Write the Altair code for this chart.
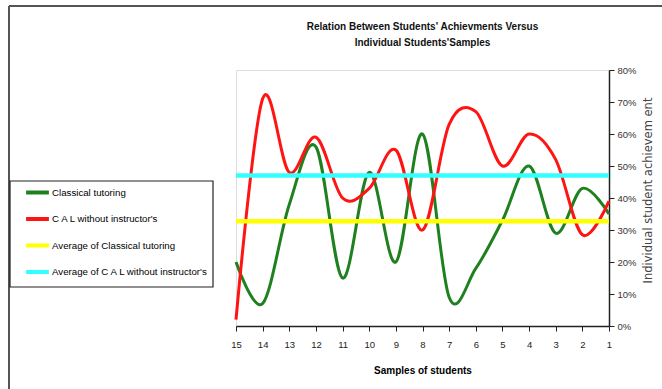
import altair as alt
import pandas as pd

categories = ["15", "14", "13", "12", "11", "10", "9", "8", "7", "6", "5", "4", "3", "2", "1"]
classical = [0.20, 0.07, 0.38, 0.56, 0.15, 0.48, 0.20, 0.60, 0.09, 0.18, 0.33, 0.50, 0.29, 0.43, 0.35]
cal = [0.02, 0.71, 0.48, 0.59, 0.40, 0.43, 0.55, 0.30, 0.63, 0.67, 0.50, 0.60, 0.52, 0.285, 0.39]
avg_classical = 0.327
avg_cal = 0.47

series_names = [
    "Classical tutoring",
    "C A L without instructor's voice",
    "Average of Classical tutoring",
    "Average of C A L without instructor's voice",
]
series_colors = ["#1f801f", "#ff1414", "#ffff00", "#33ffff"]

rows = []
for i, c in enumerate(categories):
    rows.append({"cat": c, "value": classical[i], "series": series_names[0], "order": i})
    rows.append({"cat": c, "value": cal[i], "series": series_names[1], "order": i})
    rows.append({"cat": c, "value": avg_classical, "series": series_names[2], "order": i})
    rows.append({"cat": c, "value": avg_cal, "series": series_names[3], "order": i})
df = pd.DataFrame(rows)

FONT = "Liberation Sans"

color = alt.Color(
    "series:N",
    scale=alt.Scale(domain=series_names, range=series_colors),
    sort=series_names,
    legend=alt.Legend(
        title=None,
        orient="none",
        legendX=-212,
        legendY=109,
        direction="vertical",
        symbolType="stroke",
        symbolSize=520,
        symbolStrokeWidth=4,
        symbolOpacity=1,
        labelFont=FONT,
        labelFontSize=9.7,
        labelColor="#000",
        labelOffset=1,
        labelLimit=200,
        rowPadding=4.5,
        padding=0,
        labelExpr="replace(datum.label, \" voice\", \"\")",
    ),
)

x = alt.X(
    "cat:N",
    sort=categories,
    scale=alt.Scale(type="point", padding=0),
    axis=alt.Axis(
        title="Samples of students",
        titleFont=FONT,
        titleFontSize=10,
        titleFontWeight="bold",
        titleColor="#000",
        titlePadding=17,
        labelAngle=0,
        labelFont=FONT,
        labelFontSize=9.5,
        labelColor="#222",
        labelPadding=8,
        tickSize=5,
        tickColor="#222",
        domainColor="#222",
        domainWidth=1.5,
        grid=False,
    ),
)

y = alt.Y(
    "value:Q",
    scale=alt.Scale(domain=[0, 0.8]),
    axis=alt.Axis(
        orient="right",
        title="Individual student achievem ent",
        titleFont="DejaVu Sans",
        titleFontSize=11.5,
        titleFontWeight="normal",
        titleColor="#444",
        titleAngle=270,
        titleX=39,
        titleY=120,
        titleAlign="center",
        titleBaseline="middle",
        values=[0, 0.1, 0.2, 0.3, 0.4, 0.5, 0.6, 0.7, 0.8],
        format=".0%",
        labelFont=FONT,
        labelFontSize=9.5,
        labelColor="#333",
        labelPadding=3,
        tickSize=5,
        tickColor="#222",
        domainColor="#222",
        domainWidth=1.5,
        grid=False,
    ),
)

base = alt.Chart(df)

series_lines = base.transform_filter(
    alt.FieldOneOfPredicate(field="series", oneOf=series_names[:2])
).mark_line(interpolate="cardinal", strokeWidth=3).encode(
    x=x, y=y, color=color, order="order:Q"
)

avg_lines = base.transform_filter(
    alt.FieldOneOfPredicate(field="series", oneOf=series_names[2:])
).mark_line(strokeWidth=4.5).encode(
    x=x, y=y, color=color, order="order:Q"
)

frame_df = pd.DataFrame({"k": [0]})
frame_top = alt.Chart(frame_df).mark_rule(color="#555", strokeWidth=2).encode(
    x=alt.value(-227), x2=alt.value(430), y=alt.value(-64)
)
frame_left = alt.Chart(frame_df).mark_rule(color="#555", strokeWidth=2).encode(
    x=alt.value(-227), y=alt.value(-64), y2=alt.value(330)
)
legend_box = alt.Chart(frame_df).mark_rect(fill=None, stroke="#222", strokeWidth=1.2).encode(
    x=alt.value(-226), x2=alt.value(-23), y=alt.value(111), y2=alt.value(217)
)

chart = alt.layer(series_lines, avg_lines, frame_top, frame_left, legend_box).properties(
    width=373,
    height=256,
    autosize=alt.AutoSizeParams(type="none"),
    padding={"left": 236, "top": 70, "right": 53, "bottom": 63},
    title=alt.TitleParams(
        text=["Relation Between Students' Achievments Versus", "Individual Students'Samples"],
        font=FONT,
        fontSize=10,
        fontWeight="bold",
        color="#111",
        anchor="middle",
        baseline="bottom",
        lineHeight=16,
        offset=-53,
    ),
).configure_view(stroke="#999", strokeWidth=2).configure(background="white")

chart.save("out.html", embed_options={"renderer": "svg", "actions": False})
